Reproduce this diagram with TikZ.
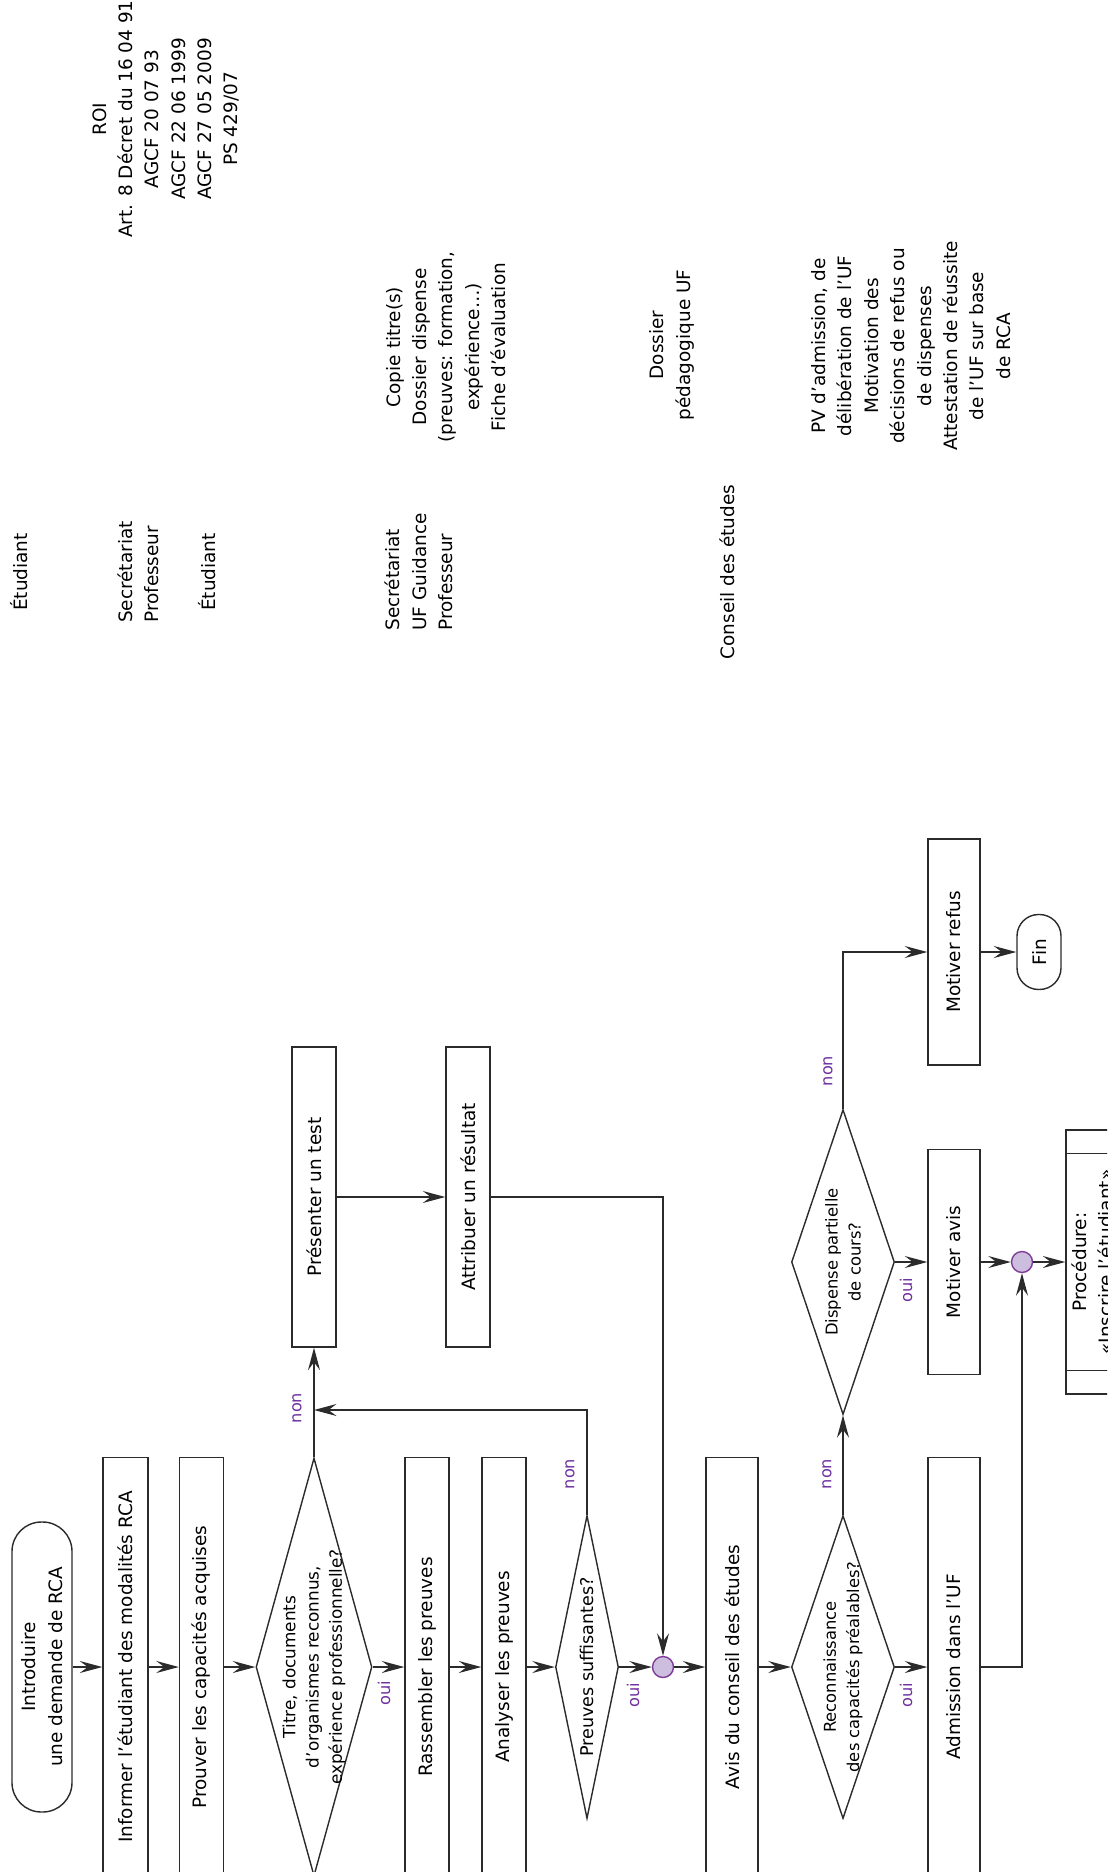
\documentclass[tikz,border=0pt]{standalone}
\usepackage{fontspec}
\setmainfont{DejaVu Sans}
\usetikzlibrary{shapes.geometric}
\usetikzlibrary{arrows.meta}
\definecolor{linegray}{HTML}{2B2B2B}
\definecolor{answercol}{HTML}{7030A0}
\definecolor{mergefill}{HTML}{CDBEDF}
\definecolor{mergeline}{HTML}{7D3C98}
\newcommand{\upx}{0.2mm} % one pixel of the sheet
\newcommand{\flowfont}{\fontsize{10.5}{15}\selectfont}
\newcommand{\answerfont}{\fontsize{9.2}{10}\selectfont}

\begin{document}
\begin{tikzpicture}[x=0.2mm, y=-0.2mm,
	every node/.style={rotate=90, inner sep=0pt, font=\flowfont, text=black},
	task/.style 2 args={rectangle, draw=linegray, line width=0.8pt, minimum width=#1*\upx, minimum height=#2*\upx, align=center},
	terminal/.style 2 args={task={#1}{#2}, rounded corners=#2*0.098mm},
	choice/.style 2 args={diamond, draw=linegray, line width=0.8pt, minimum width=#1*\upx, minimum height=#2*\upx},
	qlarge/.style={align=center, font=\fontsize{9.6}{13.2}\selectfont},
	qsmall/.style={align=center, font=\fontsize{9.3}{13.2}\selectfont},
	qplain/.style={align=center, font=\fontsize{10}{13}\selectfont},
	merge/.style={circle, draw=mergeline, fill=mergefill, line width=0.8pt, minimum size=21*\upx},
	answer/.style={font=\answerfont, text=answercol},
	note/.style={align=center},
	who/.style={align=left},
	arr/.style={draw=linegray, line width=0.8pt, -{Stealth[length=4.5mm, width=2.4mm, inset=1.6mm]}}]
	% sheet 1107 x 1872 px, y downwards
	\path[use as bounding box, clip] (0,0) rectangle (1107,1872);

	% references, actors, documents
	\node[note] (roi) at (166,119) {ROI\\Art. 8 Décret du 16 04 91\\AGCF 20 07 93\\AGCF 22 06 1999\\AGCF 27 05 2009\\PS 429/07};
	\node[who] (who1) at (19,572) {Étudiant};
	\node[who] (who2) at (138.5,572) {Secrétariat\\Professeur};
	\node[who] (who3) at (207,572) {Étudiant};
	\node[who] (who4) at (419,572) {Secrétariat\\UF Guidance\\Professeur};
	\node[who] (who5) at (727,572) {Conseil des études};
	\node[note] (docs1) at (446,347) {Copie titre(s)\\Dossier dispense\\(preuves: formation,\\expérience…)\\Fiche d’évaluation};
	\node[note] (docs2) at (672,345) {Dossier\\pédagogique UF};
	\node[note] (docs3) at (911,346) {PV d’admission, de\\délibération de l’UF\\Motivation des\\décisions de refus ou\\de dispenses\\Attestation de réussite\\de l’UF sur base\\de RCA};

	% main column
	\node[terminal={290}{60}] (start) at (42,1667) {Introduire\\une demande de RCA};
	\node[task={419}{45}] (inform) at (125.5,1667) {Informer l’étudiant des modalités RCA};
	\node[task={419}{44}] (prove) at (201.5,1667) {Prouver les capacités acquises};
	\node[choice={418}{116}, label={[qlarge]center:{Titre, documents\\d’organismes reconnus,\\expérience professionnelle?}}] (titles) at (314,1667) {};
	\node[task={419}{44}] (gather) at (427,1667) {Rassembler les preuves};
	\node[task={419}{44}] (analyse) at (504,1667) {Analyser les preuves};
	\node[choice={303}{63}, label={[qplain]center:{Preuves suffisantes?}}] (enough) at (587,1667) {};
	\node[merge] (merge1) at (663,1667) {};
	\node[task={419}{52}] (advice) at (732,1667) {Avis du conseil des études};
	\node[choice={303}{103}, label={[qsmall]center:{Reconnaissance\\des capacités préalables?}}] (prior) at (843,1667) {};
	\node[task={419}{52}] (admit) at (954,1667) {Admission dans l’UF};

	% test branch
	\node[task={300}{44}] (present) at (314,1197) {Présenter un test};
	\node[task={300}{44}] (result) at (468,1197) {Attribuer un résultat};
	\coordinate (back) at (314,1410);

	% dispense branch
	\node[choice={305}{103}, label={[qsmall]center:{Dispense partielle\\de cours?}}] (partial) at (843,1262) {};
	\node[task={225}{52}] (reason) at (954,1262) {Motiver avis};
	\node[merge] (merge2) at (1022,1262) {};
	\node[task={264}{52}] (proc) at (1092,1262) {Procédure:\\«Inscrire l’étudiant»};
	\draw[draw=linegray, line width=0.8pt] ([yshift=-24*\upx]proc.north east) -- ([yshift=-24*\upx]proc.south east);
	\draw[draw=linegray, line width=0.8pt] ([yshift=24*\upx]proc.north west) -- ([yshift=24*\upx]proc.south west);
	\node[task={226}{52}] (refuse) at (954,952) {Motiver refus};
	\node[terminal={75}{44}] (fin) at (1039,952) {Fin};

	% oui / non
	\node[answer] (non1) at (297,1408) {non};
	\node[answer] (oui1) at (384,1693) {oui};
	\node[answer] (non2) at (570,1474) {non};
	\node[answer] (oui2) at (633,1695) {oui};
	\node[answer] (non3) at (827,1474) {non};
	\node[answer] (oui3) at (906,1695) {oui};
	\node[answer] (non4) at (828,1071) {non};
	\node[answer] (oui4) at (906,1290) {oui};

	% connectors
	\draw[arr] (start) -- (inform);
	\draw[arr] (inform) -- (prove);
	\draw[arr] (prove) -- (titles);
	\draw[arr] (titles) -- (gather);
	\draw[arr] (gather) -- (analyse);
	\draw[arr] (analyse) -- (enough);
	\draw[arr] (enough) -- (merge1);
	\draw[arr] (merge1) -- (advice);
	\draw[arr] (advice) -- (prior);
	\draw[arr] (prior) -- (admit);
	\draw[arr] (titles.east) -- (present);
	\draw[arr] (enough.east) |- (back);
	\draw[arr] (present) -- (result);
	\draw[arr] (result) -| (merge1);
	\draw[arr] (prior.east) -- (partial);
	\draw[arr] (partial) -- (reason);
	\draw[arr] (reason) -- (merge2);
	\draw[arr] (merge2) -- (proc);
	\draw[arr] (admit) -| (merge2);
	\draw[arr] (partial.east) |- (refuse);
	\draw[arr] (refuse) -- (fin);
\end{tikzpicture}
\end{document}
